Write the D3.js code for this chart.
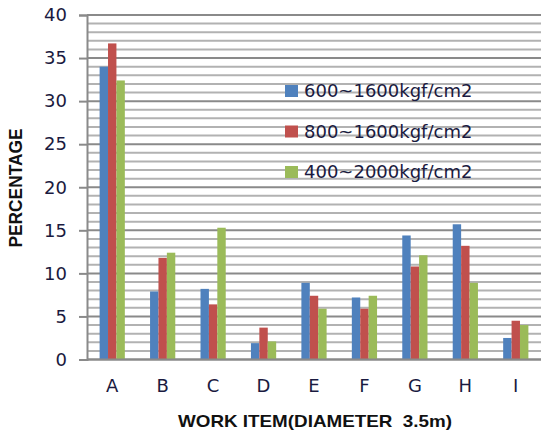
<!DOCTYPE html>
<html><head><meta charset="utf-8">
<script src="https://cdn.jsdelivr.net/npm/d3@7/dist/d3.min.js"></script>
<style>body{margin:0;background:#fff}svg{display:block}</style>
</head><body><svg id="c" width="542" height="434"></svg>
<script>
const categories = ["A","B","C","D","E","F","G","H","I"];
const seriesNames = ["600~1600kgf/cm2","800~1600kgf/cm2","400~2000kgf/cm2"];
const s1 = [34.0, 7.9, 8.2, 1.9, 8.9, 7.2, 14.4, 15.7, 2.5];
const s2 = [36.7, 11.8, 6.4, 3.7, 7.4, 5.9, 10.8, 13.2, 4.5];
const s3 = [32.4, 12.4, 15.3, 2.1, 5.9, 7.4, 12.1, 8.9, 4.0];
const yTicks = [0,5,10,15,20,25,30,35,40];
const minorTicks = [1,2,3,4,6,7,8,9,11,12,13,14,16,17,18,19,21,22,23,24,26,27,28,29,31,32,33,34,36,37,38,39];
const colors = ["#4F81BD","#C0504D","#9BBB59"];
const series = [s1,s2,s3];

const svg = d3.select("#c");
const m = {l:87, r:541, t:15, b:359.5};
const x = d3.scaleBand().domain(categories).range([m.l, m.r]).paddingInner(0.5).paddingOuter(0.25);
const x1 = d3.scaleBand().domain(d3.range(3)).range([0, x.bandwidth()]);
const y = d3.scaleLinear().domain([0,40]).range([m.b, m.t]);

// minor grid
svg.append("g").selectAll("line").data(minorTicks).enter().append("line")
  .attr("x1", m.l).attr("x2", m.r).attr("y1", d=>y(d)).attr("y2", d=>y(d))
  .attr("stroke", "#b2b2b2").attr("stroke-width", 2);

// major grid
svg.append("g").selectAll("line").data(yTicks).enter().append("line")
  .attr("x1", m.l).attr("x2", m.r).attr("y1", d=>y(d)).attr("y2", d=>y(d))
  .attr("stroke", "#8a8a8a").attr("stroke-width", 2);

// bars
categories.forEach((c,i)=>{
  series.forEach((s,k)=>{
    svg.append("rect").attr("x", x(c)+x1(k)).attr("width", x1.bandwidth())
      .attr("y", y(s[i])).attr("height", y(0)-y(s[i])).attr("fill", colors[k]);
  });
});

// y axis with outer ticks
const yAxis = d3.axisLeft(y).tickValues(yTicks).tickSize(8).tickPadding(12);
const ya = svg.append("g").attr("transform", `translate(${m.l},0)`).call(yAxis);
ya.select(".domain").attr("stroke","#8a8a8a").attr("stroke-width",2);
ya.selectAll(".tick line").attr("stroke","#8a8a8a").attr("stroke-width",2);
ya.selectAll("text").attr("font-family","DejaVu Sans").attr("font-size",18).attr("fill","#1a1a40");

svg.append("line").attr("x1", m.l).attr("x2", m.r).attr("y1", y(0)).attr("y2", y(0))
  .attr("stroke","#8a8a8a").attr("stroke-width",2);

const xAxis = d3.axisBottom(x).tickSize(0).tickPadding(20);
const xa = svg.append("g").attr("transform", `translate(0,${m.b})`).call(xAxis);
xa.select(".domain").remove();
xa.selectAll("text").attr("font-family","DejaVu Sans").attr("font-size",18).attr("fill","#1a1a40");

// titles
svg.append("text").attr("x", 315).attr("y", 427).attr("text-anchor","middle")
  .attr("font-family","Liberation Sans").attr("font-weight","bold").attr("font-size",17)
  .attr("textLength",274).attr("lengthAdjust","spacingAndGlyphs")
  .style("white-space","pre").attr("xml:space","preserve")
  .attr("fill","#111").text("WORK ITEM(DIAMETER  3.5m)");
svg.append("text").attr("transform","translate(22,188) rotate(-90)").attr("text-anchor","middle")
  .attr("font-family","Liberation Sans").attr("font-weight","bold").attr("font-size",18)
  .attr("textLength",119).attr("lengthAdjust","spacingAndGlyphs")
  .attr("fill","#111").text("PERCENTAGE");

// legend
const legY = [91, 131.5, 172];
const lg = svg.append("g");
seriesNames.forEach((n,k)=>{
  lg.append("rect").attr("x",285).attr("y",legY[k]-6).attr("width",13).attr("height",12).attr("fill",colors[k]);
  lg.append("text").attr("x",304).attr("y",legY[k]).attr("dy","0.36em")
    .attr("font-family","DejaVu Sans").attr("font-size",18).attr("fill","#1a1a40").text(n);
});
</script></body></html>
